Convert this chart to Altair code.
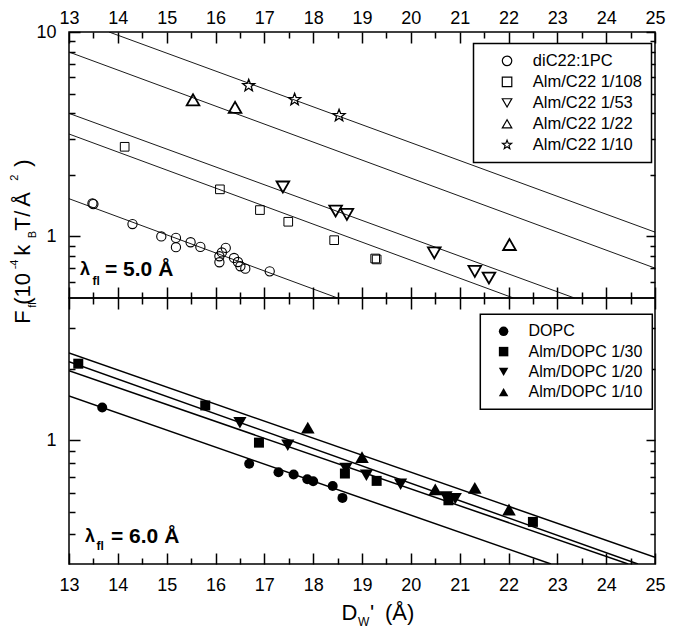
import altair as alt
import pandas as pd

FONT = "Liberation Sans"
STAR = ("M0,-1L0.247,-0.34L0.951,-0.309L0.399,0.13L0.588,0.809L0,0.42"
        "L-0.588,0.809L-0.399,0.13L-0.951,-0.309L-0.247,-0.34Z")

# ---------------- top panel (lambda_fl = 5.0 A) ----------------
top_series = ["diC22:1PC", "Alm/C22 1/108", "Alm/C22 1/53", "Alm/C22 1/22", "Alm/C22 1/10"]
top_shapes = ["circle", "square", "triangle-down", "triangle-up", STAR]
top_sizes = [85, 75, 160, 160, 160]
top_strokes = [1.1, 1.0, 1.8, 1.8, 1.3]

dic22_x = [13.48, 13.50, 14.30, 14.89, 15.19, 15.19, 15.49, 15.69, 16.08, 16.08,
           16.13, 16.21, 16.38, 16.46, 16.51, 16.61, 17.11]
dic22_y = [1.45, 1.44, 1.15, 1.00, 0.984, 0.886, 0.937, 0.889, 0.80, 0.748,
           0.835, 0.879, 0.785, 0.75, 0.715, 0.696, 0.675]
a108_x = [14.14, 16.09, 16.91, 17.49, 18.43, 19.27, 19.30]
a108_y = [2.745, 1.70, 1.346, 1.18, 0.959, 0.78, 0.772]
a53_x = [17.38, 18.46, 18.69, 20.48, 21.31, 21.60]
a53_y = [1.746, 1.331, 1.282, 0.831, 0.675, 0.626]
a22_x = [15.54, 16.40, 22.02]
a22_y = [4.66, 4.28, 0.913]
a10_x = [16.68, 17.62, 18.53]
a10_y = [5.47, 4.67, 3.90]

top_fit_x0 = [13.0, 13.0, 13.0, 13.0, 13.82]
top_fit_y0 = [1.53, 3.17, 4.0, 7.98, 10.0]
top_fit_x1 = [18.5, 22.1, 23.35, 25.0, 25.0]
top_fit_y1 = [0.5, 0.5, 0.5, 0.70, 1.05]

# ---------------- bottom panel (lambda_fl = 6.0 A) ----------------
bot_series = ["DOPC", "Alm/DOPC 1/30", "Alm/DOPC 1/20", "Alm/DOPC 1/10"]
bot_shapes = ["circle", "square", "triangle-down", "triangle-up"]
bot_sizes = [100, 100, 175, 185]
bot_strokes = [0, 0, 0, 0]

dopc_x = [13.68, 16.69, 17.29, 17.60, 17.88, 18.00, 18.40, 18.60]
dopc_y = [1.378, 0.797, 0.733, 0.717, 0.685, 0.672, 0.641, 0.571]
d30_x = [13.19, 15.79, 16.89, 18.65, 19.30, 20.77, 22.50]
d30_y = [2.11, 1.405, 0.978, 0.724, 0.674, 0.558, 0.452]
d20_x = [16.50, 17.48, 18.67, 19.09, 19.79, 20.72, 20.91]
d20_y = [1.188, 0.953, 0.76, 0.712, 0.652, 0.576, 0.567]
d10_x = [17.89, 19.00, 20.50, 21.31, 22.01]
d10_y = [1.131, 0.85, 0.621, 0.629, 0.51]

bot_fit_x0 = [13.0, 13.0, 13.0, 13.0]
bot_fit_y0 = [1.54, 2.15, 1.97, 2.34]
bot_fit_x1 = [22.87, 24.65, 24.45, 25.0]
bot_fit_y1 = [0.30, 0.30, 0.30, 0.32]

# ---------------- axes ticks ----------------
x_major = list(range(13, 26))
x_minor = [13.5, 14.5, 15.5, 16.5, 17.5, 18.5, 19.5, 20.5, 21.5, 22.5, 23.5, 24.5]
top_y_major = [1, 10]
top_y_minor = [0.6, 0.7, 0.8, 0.9, 2, 3, 4, 5, 6, 7, 8, 9]
bot_y_major = [1]
bot_y_minor = [0.4, 0.5, 0.6, 0.7, 0.8, 0.9, 2, 3]


def frame(xs, ys, names, sizes, strokes):
    rows = []
    for name, xv, yv, s, w in zip(names, xs, ys, sizes, strokes):
        for a, b in zip(xv, yv):
            rows.append({"series": name, "x": a, "y": b, "sz": s, "sw": w})
    return pd.DataFrame(rows)


def fit_frame(names, x0, y0, x1, y1):
    rows = []
    for i, n in enumerate(names):
        rows.append({"series": n, "x": x0[i], "y": y0[i]})
        rows.append({"series": n, "x": x1[i], "y": y1[i]})
    return pd.DataFrame(rows)


top_pts = frame([dic22_x, a108_x, a53_x, a22_x, a10_x],
                [dic22_y, a108_y, a53_y, a22_y, a10_y], top_series, top_sizes, top_strokes)
bot_pts = frame([dopc_x, d30_x, d20_x, d10_x], [dopc_y, d30_y, d20_y, d10_y], bot_series,
                bot_sizes, bot_strokes)
top_fit = fit_frame(top_series, top_fit_x0, top_fit_y0, top_fit_x1, top_fit_y1)
bot_fit = fit_frame(bot_series, bot_fit_x0, bot_fit_y0, bot_fit_x1, bot_fit_y1)

W, H = 586, 266
xs = alt.Scale(domain=[13, 25], nice=False, zero=False)
ys_top = alt.Scale(type="log", domain=[0.5, 10], nice=False)
ys_bot = alt.Scale(type="log", domain=[0.3, 4], nice=False)


def ax(orient, size, vals, labels=False, pad=0):
    kw = dict(orient=orient, offset=-size, tickSize=size, values=vals, labels=labels,
              domain=False, grid=False, ticks=True, tickColor="black", tickWidth=1.5)
    if labels:
        kw.update(labelFontSize=18, labelFont=FONT, labelColor="black",
                  labelPadding=pad, format="~g", labelFlush=False, labelOverlap=False)
    return alt.Axis(**kw)


def texts(labels, tx, ty, size, angle=0, weight="normal"):
    df = pd.DataFrame({"label": labels, "tx": tx, "ty": ty})
    return alt.Chart(df).mark_text(align="left", baseline="alphabetic", font=FONT,
                                   fontSize=size, angle=angle, fontWeight=weight,
                                   color="black").encode(
        x=alt.X("tx:Q", scale=None, axis=None),
        y=alt.Y("ty:Q", scale=None, axis=None),
        text="label:N")


def panel(pts, fit, yscale, ymaj, ymin, series, shapes, filled,
          label_side, leg, fit_width, extra):
    other = "bottom" if label_side == "top" else "top"
    lines = alt.Chart(fit).mark_line(color="black", strokeWidth=fit_width, clip=True).encode(
        x=alt.X("x:Q", scale=xs, title=None, axis=ax(label_side, 11, x_major, True,
                                                        5 if label_side == "top" else 12)),
        y=alt.Y("y:Q", scale=yscale, title=None, axis=ax("left", 11, ymaj, True, 13)),
        detail="series:N")
    points = alt.Chart(pts).mark_point(filled=filled, color="black", opacity=1).encode(
        x=alt.X("x:Q", scale=xs, title=None, axis=ax(label_side, 6, x_minor)),
        y=alt.Y("y:Q", scale=yscale, title=None, axis=ax("left", 6, ymin)),
        shape=alt.Shape("series:N", scale=alt.Scale(domain=series, range=shapes), legend=leg),
        size=alt.Size("sz:Q", scale=None),
        strokeWidth=alt.StrokeWidth("sw:Q", scale=None),
    )
    d1 = alt.Chart(fit).mark_point(opacity=0).encode(
        x=alt.X("x:Q", scale=xs, title=None, axis=ax(other, 11, x_major)),
        y=alt.Y("y:Q", scale=yscale, title=None, axis=ax("right", 9, ymaj)))
    d2 = alt.Chart(fit).mark_point(opacity=0).encode(
        x=alt.X("x:Q", scale=xs, title=None, axis=ax(other, 6, x_minor)),
        y=alt.Y("y:Q", scale=yscale, title=None, axis=ax("right", 5, ymin)))
    return alt.layer(lines, points, d1, d2, *extra).resolve_axis(
        x="independent", y="independent").properties(width=W, height=H)


def legend(lx, ly, fs, sym_off, lab_off, rowpad, strokew):
    return alt.Legend(orient="none", legendX=lx, legendY=ly, title=None, strokeColor="black",
                      fillColor="white", padding=9, labelFontSize=fs, labelFont=FONT,
                      labelColor="black", symbolSize=90, symbolStrokeWidth=strokew,
                      symbolStrokeColor="black", symbolOffset=sym_off, labelOffset=lab_off,
                      rowPadding=rowpad)


# text pieces (annotations / composite axis titles with sub- and superscripts)
ytitle_main = texts(["F", "(10", "k", "T", "/", "\u00c5", ")"],
                    [-39, -39, -39, -39, -39, -39, -39],
                    [291.8, 272.8, 223.8, 198.8, 184.8, 174.8, 134.8], 22, 270)
ytitle_sub = texts(["fl", "B"], [-33, -33], [275.8, 206.3], 11, 270)
ytitle_sup = texts(["-4", "2"], [-51, -51], [237.3, 148.8], 11, 270)
lam_top_a = texts(["\u03bb"], [11], [243.3], 18, 0, "bold")
lam_top_b = texts(["fl"], [23.5], [253.3], 12, 0, "bold")
lam_top_c = texts(["= 5.0 \u00c5"], [36], [244.3], 21, 0, "bold")

xtitle_main = texts(["D", "'", "(\u00c5)"], [272.5, 301, 316], [321.6, 321.6, 321.6], 22)
xtitle_sub = texts(["W"], [289], [327.8], 12)
lam_bot_a = texts(["\u03bb"], [16], [244.3], 18, 0, "bold")
lam_bot_b = texts(["fl"], [27.5], [251.8], 12, 0, "bold")
lam_bot_c = texts(["= 6.0 \u00c5"], [42], [244.8], 21, 0, "bold")

top = panel(top_pts, top_fit, ys_top, top_y_major, top_y_minor, top_series, top_shapes,
            False, "top", legend(404.5, 11.6, 16.5, 16.3, 17.5, 4, 1.2), 0.9,
            [ytitle_main, ytitle_sub, ytitle_sup, lam_top_a, lam_top_b, lam_top_c])
bottom = panel(bot_pts, bot_fit, ys_bot, bot_y_major, bot_y_minor, bot_series, bot_shapes,
               True, "bottom", legend(411.3, 16.3, 16, 6.3, 16.9, 4.3, 1), 1.5,
               [xtitle_main, xtitle_sub, lam_bot_a, lam_bot_b, lam_bot_c])

chart = alt.vconcat(top, bottom, spacing=0, bounds="flush").resolve_scale(
    shape="independent"
).properties(padding={"left": 0, "top": 0, "right": 0, "bottom": 0}).configure_view(
    stroke="black", strokeWidth=1.5
).configure_legend(strokeWidth=1.5)

chart.save("out.html", embed_options={"renderer": "svg", "actions": False})
